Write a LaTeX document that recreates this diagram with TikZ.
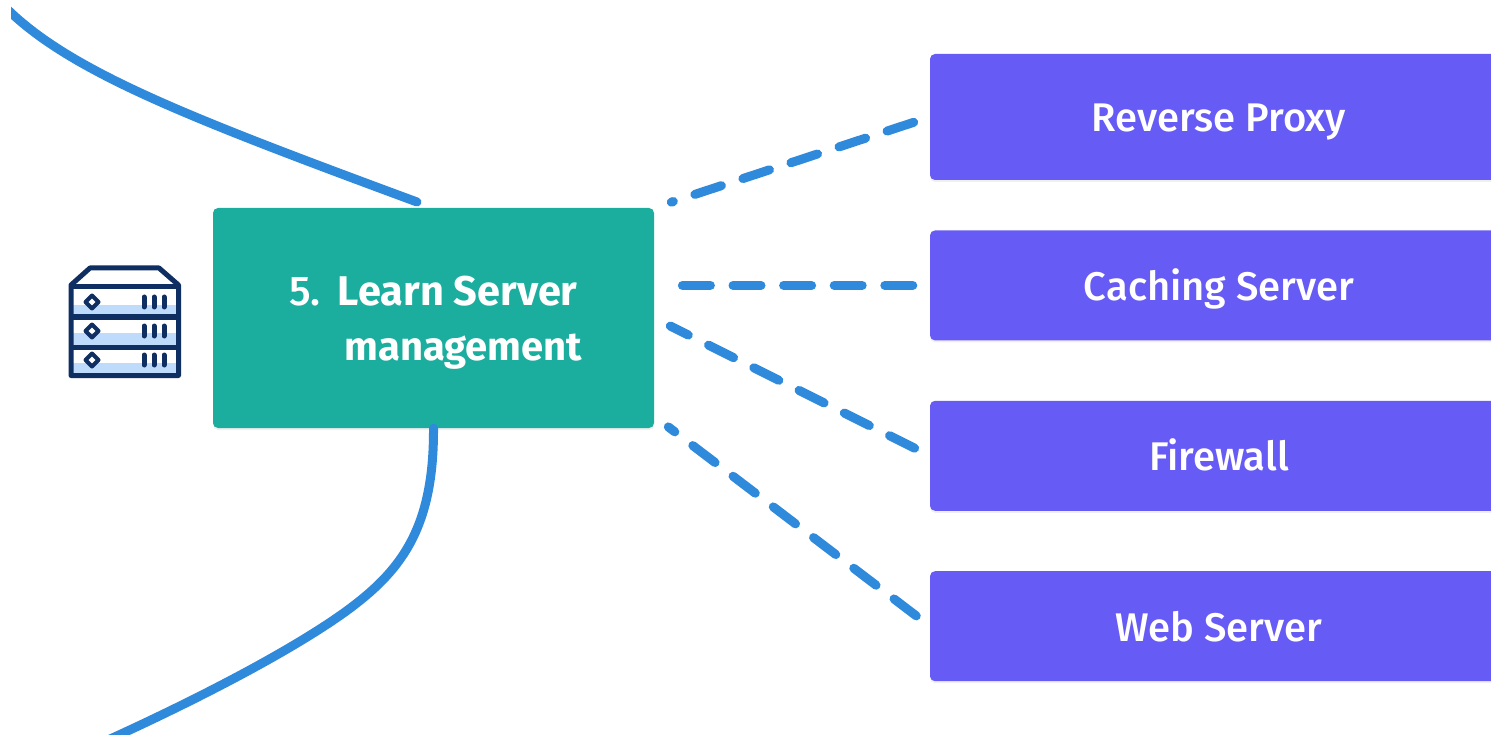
\documentclass[tikz,border=0pt]{standalone}
\usepackage{fontspec}
\setmainfont[UprightFont=* Medium,BoldFont=* Bold]{Fira Sans}
\usetikzlibrary{positioning}
\usetikzlibrary{shadows}
\definecolor{linkblue}{HTML}{2F8ADC}
\definecolor{stepgreen}{HTML}{1BAE9F}
\definecolor{toolpurple}{HTML}{675BF6}
\definecolor{iconnavy}{HTML}{0F2F63}
\definecolor{iconpale}{HTML}{BFDBFB}
\tikzset{
    softshadow/.style={drop shadow={shadow xshift=0pt,shadow yshift=-2pt,opacity=.12}},
    stepbox/.style={fill=stepgreen,rounded corners=5pt,minimum width=441pt,minimum height=220pt,
        inner sep=0pt,softshadow},
    steptext/.style={inner sep=0pt,text=white,align=left,font=\fontsize{41.5}{55}\selectfont},
    toolbox/.style={fill=toolpurple,rounded corners=5pt,minimum width=578pt,minimum height=110pt,
        text=white,inner sep=0pt,text height=30pt,text depth=0pt,font=\fontsize{40}{44}\selectfont,softshadow},
    mainlink/.style={draw=linkblue,line width=9pt,line cap=round},
    toollink/.style={draw=linkblue,line width=9pt,line cap=round,dash pattern=on 28pt off 22.6pt,
        shorten >=18pt,shorten <=17pt},
    iconline/.style={draw=iconnavy,line width=5pt,line join=round},
}
\begin{document}
\begin{tikzpicture}[x=1pt,y=-1pt]
    \clip (0,0) rectangle (1491,735);
    %% main line
    \coordinate (topfree) at (5,7);
    \coordinate (bottomfree) at (108,740);
    \node[stepbox] (server) at (433.5,318) {};
    \node[steptext] (servertext) at (436,323) {5.\hspace{17pt}\textbf{Learn Server}\\\hspace*{55pt}{\fontsize{40}{55}\selectfont\textbf{management}}};
    \begin{scope}
        \clip (11,0) rectangle (1491,735);
        \draw[mainlink] (topfree) .. controls (70,72) and (190,118) .. (417,202);
    \end{scope}
    \draw[mainlink] (server.south) .. controls (434,530) and (400,572) .. (345,612) .. controls (285,655) and (185,705) .. (bottomfree);
    %% tools
    \node[toolbox,minimum height=126pt] (proxy) at (1219,117) {Reverse Proxy};
    \node[toolbox,below=50pt of proxy] (caching) {Caching Server};
    \node[toolbox,below=60pt of caching] (firewall) {Firewall};
    \node[toolbox,below=60pt of firewall] (webserver) {Web Server};
    \coordinate (serverlow) at (654,416);
    \draw[toollink] (proxy.west) -- (server.north east);
    \draw[toollink,shorten >=27pt] (caching.west) -- (caching.west -| server.east);
    \draw[toollink] (firewall.west) -- (server.east);
    \draw[toollink] (webserver.west) -- (serverlow);
    %% server icon
    \foreach \rowmid/\bandtop/\bandend in {302/305/317,331/333/347,360/363/376}{
        \fill[iconpale] (71,\bandtop) rectangle (178,\bandend);
        \draw[iconline,line width=4pt] (92,\rowmid-6.5) -- (98.5,\rowmid) -- (92,\rowmid+6.5) -- (85.5,\rowmid) -- cycle;
        \foreach \barx in {144,154,164}
            \draw[iconline,line cap=round] (\barx,\rowmid-5) -- (\barx,\rowmid+5);
    }
    \draw[iconline] (71,285) -- (90,268) -- (159,268) -- (178.5,285) -- (178.5,375.5) -- (71,375.5) -- cycle;
    \foreach \rowline in {287,317,347}
        \draw[iconline] (71,\rowline) -- (178.5,\rowline);
\end{tikzpicture}
\end{document}
